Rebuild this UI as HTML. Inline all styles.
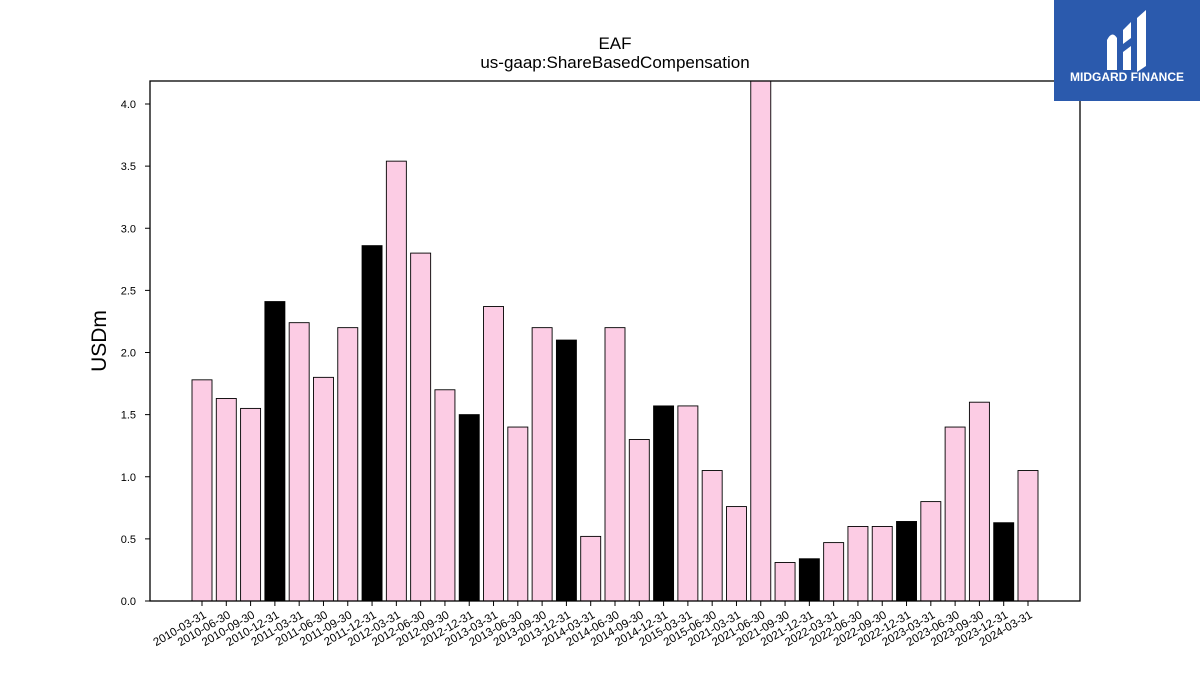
<!DOCTYPE html>
<html><head><meta charset="utf-8"><style>
body{margin:0;background:#fff;width:1200px;height:675px;overflow:hidden;font-family:"Liberation Sans","DejaVu Sans",sans-serif}
</style></head><body>
<svg width="1200" height="675" xmlns="http://www.w3.org/2000/svg">
<text x="615" y="49" text-anchor="middle" font-size="17">EAF</text>
<text x="615" y="68" text-anchor="middle" font-size="17">us-gaap:ShareBasedCompensation</text>
<text transform="translate(106,341) rotate(-90)" text-anchor="middle" font-size="21">USDm</text>
<g id="plot"></g>
<rect x="150" y="81" width="930" height="520" fill="none" stroke="#000" stroke-width="1.3"/>
<g>
<rect x="1054" y="0" width="146" height="101" fill="#2b5aad"/>
<path d="M1107 70 V40 Q1112 30 1117 38 V70 Z M1123 30 L1131 22 V38 L1123 44 Z M1123 52 L1131 46 V70 H1123 Z M1137 18 L1146 10 V66 L1137 72 Z" fill="#fff"/>
<text x="1127" y="81" text-anchor="middle" font-size="12" font-weight="bold" fill="#fff">MIDGARD FINANCE</text>
</g>
</svg>
<script>
const categories=["2010-03-31","2010-06-30","2010-09-30","2010-12-31","2011-03-31","2011-06-30","2011-09-30","2011-12-31","2012-03-31","2012-06-30","2012-09-30","2012-12-31","2013-03-31","2013-06-30","2013-09-30","2013-12-31","2014-03-31","2014-06-30","2014-09-30","2014-12-31","2015-03-31","2015-06-30","2021-03-31","2021-06-30","2021-09-30","2021-12-31","2022-03-31","2022-06-30","2022-09-30","2022-12-31","2023-03-31","2023-06-30","2023-09-30","2023-12-31","2024-03-31"];
const values=[1.78,1.63,1.55,2.41,2.24,1.80,2.20,2.86,3.54,2.80,1.70,1.50,2.37,1.40,2.20,2.10,0.52,2.20,1.30,1.57,1.57,1.05,0.76,4.5,0.31,0.34,0.47,0.60,0.60,0.64,0.80,1.40,1.60,0.63,1.05];
const yTicks=[0,0.5,1,1.5,2,2.5,3,3.5,4];
const NS="http://www.w3.org/2000/svg";
const g=document.getElementById('plot');
const X0=150,X1=1080,Y0=601,YT=81;
const y=v=>Y0-v*124.25;
const step=(1028-202)/(categories.length-1);
const x=i=>202+i*step;
function mk(t,a){const e=document.createElementNS(NS,t);for(const k in a)e.setAttribute(k,a[k]);g.appendChild(e);return e;}
const clip=mk('clipPath',{id:'c'});
const cr=document.createElementNS(NS,'rect');cr.setAttribute('x',X0);cr.setAttribute('y',YT);cr.setAttribute('width',X1-X0);cr.setAttribute('height',Y0-YT);clip.appendChild(cr);
yTicks.forEach(t=>{
 const l=mk('line',{x1:X0-5,x2:X0,y1:y(t),y2:y(t),stroke:'#000'});
 
 
 const tx=mk('text',{x:X0-14,y:y(t)+4,'text-anchor':'end','font-size':11});
 
 
 tx.textContent=t.toFixed(1);
});
categories.forEach((c,i)=>{
 const h=Math.max(0,values[i]);
 const b=mk('rect',{x:x(i)-10,y:y(h),width:20,height:Y0-y(h),fill:c.endsWith('12-31')?'#000':'#fccce4',stroke:'#000','stroke-width':0.9,'clip-path':'url(#c)'});
 
 
 const tk=mk('line',{x1:x(i),x2:x(i),y1:Y0,y2:Y0+5,stroke:'#000'});
 
 
 const tx=mk('text',{x:x(i)+5,y:Y0+16,'text-anchor':'end','font-size':11.5,transform:`rotate(-30 ${x(i)+5} ${Y0+16})`});
 
 
 tx.textContent=c;
});
</script>
</body></html>
